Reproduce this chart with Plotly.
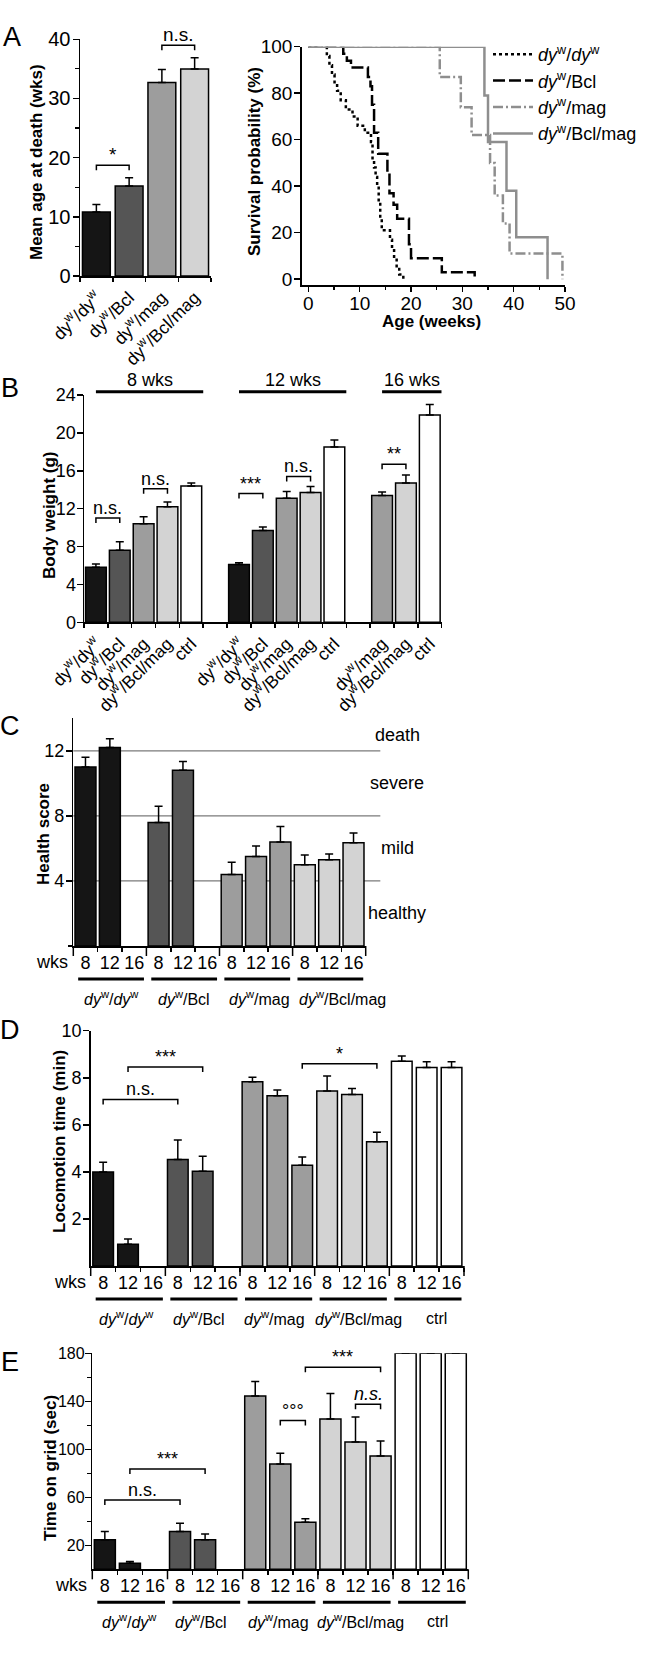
import plotly.graph_objects as go

W, H = 647, 1655
FONT = "Liberation Sans, Arial, Helvetica, sans-serif"

# ---------------- shared labels / colours ----------------
geno_keys = ["dydy", "bcl", "mag", "bclmag", "ctrl"]
geno_tick = ["dy<sup>w</sup>/dy<sup>w</sup>", "dy<sup>w</sup>/Bcl", "dy<sup>w</sup>/mag",
             "dy<sup>w</sup>/Bcl/mag", "ctrl"]
geno_ital = ["<i>dy</i><sup>w</sup>/<i>dy</i><sup>w</sup>", "<i>dy</i><sup>w</sup>/Bcl",
             "<i>dy</i><sup>w</sup>/mag", "<i>dy</i><sup>w</sup>/Bcl/mag", "ctrl"]
geno_color = ["#151515", "#555555", "#9d9d9d", "#d3d3d3", "#ffffff"]

# ---------------- A (left): mean age at death ----------------
A_geno = ["dydy", "bcl", "mag", "bclmag"]
A_mean = [10.8, 15.2, 32.7, 35.0]
A_sem = [1.3, 1.4, 2.2, 1.9]
A_sig = [(0, 1, 18.7, "*"), (2, 3, 39.0, "n.s.")]

# ---------------- A (right): survival curves ----------------
surv_dydy_t = [0, 3.6, 4.1, 4.6, 5.1, 5.6, 6.3, 7.3, 8.6, 9.6, 11.0, 12.2, 12.5, 12.8, 13.1,
               13.4, 13.7, 14.0, 14.3, 15.9, 16.3, 16.7, 17.2, 17.7, 18.5]
surv_dydy_s = [100, 96, 92, 88, 84, 81, 77, 73, 70, 66, 63, 59, 52, 48, 44,
               40, 33, 26, 21, 17, 13, 9, 5, 2, 0]
surv_bcl_t = [0, 6.8, 7.5, 8.3, 11.6, 12.1, 12.4, 12.8, 13.6, 15.4, 15.8, 16.6, 17.3, 19.6,
              20.0, 26.0, 32.4]
surv_bcl_s = [100, 97, 94, 91, 87, 83, 75, 63, 54, 46, 37, 32, 26, 15,
              9, 3, 0]
surv_mag_t = [0, 25.6, 29.7, 31.8, 35.4, 36.3, 37.9, 39.2, 49.5]
surv_mag_s = [100, 87, 74, 62, 50, 36, 24, 11, 0]
surv_bclmag_t = [0, 34.3, 35.0, 38.6, 40.5, 46.6]
surv_bclmag_s = [100, 79, 59, 38, 18, 0]

# ---------------- B: body weight ----------------
B_weeks = ["8 wks", "12 wks", "16 wks"]
B_geno = [["dydy", "bcl", "mag", "bclmag", "ctrl"],
          ["dydy", "bcl", "mag", "bclmag", "ctrl"],
          ["mag", "bclmag", "ctrl"]]
B_mean = [5.8, 7.6, 10.4, 12.2, 14.4, 6.1, 9.7, 13.1, 13.7, 18.5, 13.4, 14.7, 21.9]
B_sem = [0.35, 0.9, 0.75, 0.5, 0.3, 0.2, 0.35, 0.7, 0.65, 0.75, 0.35, 0.85, 1.1]
B_sig = [(0, 1, 11.0, "n.s."), (2, 3, 14.1, "n.s."), (6, 7, 13.6, "***"),
         (8, 9, 15.4, "n.s."), (12, 13, 16.7, "**")]

# ---------------- C, D, E: per genotype x weeks ----------------
weeks = ["8", "12", "16"]
C_geno = ["dydy", "bcl", "mag", "bclmag"]
C_mean = [11.0, 12.2, None, 7.6, 10.8, None, 4.4, 5.5, 6.4, 5.0, 5.3, 6.35]
C_sem = [0.6, 0.55, 0, 1.0, 0.55, 0, 0.75, 0.65, 0.95, 0.6, 0.35, 0.6]
C_thresholds = [4, 8, 12]
C_zones = ["healthy", "mild", "severe", "death"]

D_geno = ["dydy", "bcl", "mag", "bclmag", "ctrl"]
D_mean = [4.0, 0.92, None, 4.53, 4.03, None, 7.83, 7.24, 4.28, 7.44, 7.29, 5.28, 8.7, 8.44, 8.44]
D_sem = [0.41, 0.23, 0, 0.82, 0.63, 0, 0.19, 0.24, 0.35, 0.63, 0.25, 0.4, 0.22, 0.24, 0.24]
D_sig = [(0, 3, 7.08, "n.s."), (1, 4, 8.46, "***"), (8, 11, 8.6, "*")]

E_geno = ["dydy", "bcl", "mag", "bclmag", "ctrl"]
E_mean = [24.7, 5.0, None, 31.4, 24.7, None, 144.4, 87.8, 39.2, 125.3, 106.1, 94.4, 180, 180, 180]
E_sem = [6.7, 1.4, 0, 6.9, 4.7, 0, 12.0, 8.9, 3.0, 21.1, 20.9, 12.6, 0, 0, 0]
E_sig = [(0, 3, 57.8, "n.s."), (1, 4, 83.6, "***"), (7, 8, 123.9, "°°°"),
         (8, 11, 168.3, "***"), (10, 11, 137.5, "<i>n.s.</i>")]

# ======================================================================
fig = go.Figure()


def xdom(l, r):
    return [l / W, r / W]


def ydom(t, b):
    return [1 - b / H, 1 - t / H]


DOM = {
    "A1": (xdom(80, 211), ydom(39.3, 276)),
    "A2": (xdom(301.7, 565), ydom(46.7, 285)),
    "B": (xdom(84, 441.7), ydom(395, 622.3)),
    "C": (xdom(73.3, 365.7), ydom(718.3, 946)),
    "D": (xdom(90.7, 464), ydom(1030.7, 1266)),
    "E": (xdom(92.3, 468.3), ydom(1353.3, 1569.3)),
}
AX = {"A1": ("x", "y"), "A2": ("x2", "y2"), "B": ("x3", "y3"),
      "C": ("x4", "y4"), "D": ("x5", "y5"), "E": ("x6", "y6")}


def col(key):
    return geno_color[geno_keys.index(key)]


def add_bars(panel, xs, ys, errs, colors, width):
    xa, ya = AX[panel]
    fig.add_trace(go.Bar(
        x=xs, y=ys, width=width,
        marker=dict(color=colors, line=dict(color="black", width=1.5)),
        error_y=dict(type="data", array=errs, arrayminus=[0] * len(errs), symmetric=False,
                     color="black", thickness=1.5, width=4),
        xaxis=xa, yaxis=ya, showlegend=False, hoverinfo="skip", cliponaxis=False))


def yrange_px(panel):
    d = DOM[panel][1]
    return (d[1] - d[0]) * H


def add_brackets(panel, sigs, yspan, leg_px=5, fsize=18):
    xa, ya = AX[panel]
    leg = leg_px * yspan / yrange_px(panel)
    for x0, x1, y, txt in sigs:
        fig.add_shape(type="path", xref=xa, yref=ya,
                      path=f"M {x0},{y - leg} L {x0},{y} L {x1},{y} L {x1},{y - leg}",
                      line=dict(color="black", width=1.5))
        fig.add_annotation(x=(x0 + x1) / 2, y=y, xref=xa, yref=ya, text=txt, showarrow=False,
                           xanchor="center", yanchor="bottom", yshift=-2,
                           font=dict(size=fsize, family=FONT, color="black"))


# ---------------- panel A left ----------------
add_bars("A1", list(range(len(A_mean))), A_mean, A_sem, [col(k) for k in A_geno], 0.85)
add_brackets("A1", A_sig, 40, leg_px=5, fsize=19)

# ---------------- panel A right ----------------
surv_sets = [(surv_dydy_t, surv_dydy_s, "black", "dot", geno_ital[0]),
             (surv_bcl_t, surv_bcl_s, "black", "12px,4px", geno_ital[1]),
             (surv_mag_t, surv_mag_s, "#8e8e8e", "10px,3px,2px,3px", geno_ital[2]),
             (surv_bclmag_t, surv_bclmag_s, "#8e8e8e", "solid", geno_ital[3])]
for t, s, c, dash, name in surv_sets:
    fig.add_trace(go.Scatter(x=t, y=s, mode="lines", line=dict(color=c, width=2.5, dash=dash, shape="hv"),
                             name=name, xaxis="x2", yaxis="y2", cliponaxis=False, hoverinfo="skip"))

# ---------------- panel B ----------------
B_pos, B_ticktext, B_cols, B_spans = [], [], [], []
p = 0
for wk, gl in zip(B_weeks, B_geno):
    start = p
    for g in gl:
        B_pos.append(p)
        B_ticktext.append(geno_tick[geno_keys.index(g)])
        B_cols.append(col(g))
        p += 1
    B_spans.append((start, p - 1, wk))
    p += 1
add_bars("B", B_pos, B_mean, B_sem, B_cols, 0.87)
add_brackets("B", B_sig, 24, leg_px=5)
for a, b, wk in B_spans:
    fig.add_shape(type="line", xref="x3", yref="y3 domain", x0=a, x1=b + 0.5, y0=1.0145, y1=1.0145,
                  line=dict(color="black", width=3))
    fig.add_annotation(x=(a + b + 0.5) / 2, y=1.0145, xref="x3", yref="y3 domain", text=wk,
                       showarrow=False, xanchor="center", yanchor="middle", yshift=12,
                       font=dict(size=18, family=FONT, color="black"))


# ---------------- panels C, D, E ----------------
def slots_panel(panel, glist, means, sems, width, name_shift=None):
    xs = list(range(len(glist) * 3))
    cols = [col(g) for g in glist for _ in weeks]
    add_bars(panel, xs, means, sems, cols, width)
    xa, ya = AX[panel]
    n = len(glist)
    shifts = name_shift or [0] * n
    for g in range(n + 1):
        fig.add_shape(type="line", xref=f"{xa} domain", yref=f"{ya} domain", x0=g / n, x1=g / n,
                      y0=0, y1=-10 / yrange_px(panel), line=dict(color="black", width=1.5))
    for gi, g in enumerate(glist):
        fig.add_shape(type="line", xref=xa, yref=f"{ya} domain", x0=3 * gi - 0.3, x1=3 * gi + 2.4,
                      y0=-33 / yrange_px(panel), y1=-33 / yrange_px(panel),
                      line=dict(color="black", width=3))
        fig.add_annotation(x=3 * gi + 1.05, y=0, xref=xa, yref=f"{ya} domain",
                           text=geno_ital[geno_keys.index(g)], showarrow=False,
                           xanchor="center", yanchor="middle", xshift=shifts[gi],
                           yshift=-52, font=dict(size=16, family=FONT, color="black"))
    fig.add_annotation(x=0, y=0, xref=f"{xa} domain", yref=f"{ya} domain", text="wks", showarrow=False,
                       xanchor="right", yanchor="middle", xshift=-3, yshift=-16,
                       font=dict(size=18, family=FONT, color="black"))


slots_panel("C", C_geno, C_mean, C_sem, 0.86, name_shift=[0, 0, 2, 12])
for th in C_thresholds:
    fig.add_shape(type="line", xref="x4 domain", yref="y4", x0=0, x1=1.05, y0=th, y1=th,
                  line=dict(color="#7a7a7a", width=1.2), layer="below")
zone_edges = [0] + C_thresholds + [14]
for i, z in enumerate(C_zones):
    fig.add_annotation(x=397 / W, y=(zone_edges[i] + zone_edges[i + 1]) / 2, xref="paper", yref="y4",
                       text=z, showarrow=False, xanchor="center", yanchor="middle",
                       font=dict(size=18, family=FONT, color="black"))

slots_panel("D", D_geno, D_mean, D_sem, 0.83, name_shift=[-3, -5, -4, 5, 9])
add_brackets("D", D_sig, 10, leg_px=5)
slots_panel("E", E_geno, E_mean, E_sem, 0.84, name_shift=[-2, -5, -3, 4, 6])
add_brackets("E", E_sig, 180, leg_px=5)


# ---------------- axes ----------------
def yaxis(panel, rng, tickvals, minor=None, size=18, standoff=-2):
    d = dict(domain=DOM[panel][1], range=rng, tickvals=tickvals, ticks="outside", ticklen=6,
             tickwidth=1.5, tickcolor="black", showline=True, linewidth=1.5, linecolor="black",
             showgrid=False, zeroline=False, anchor=AX[panel][0], automargin=False,
             ticklabelstandoff=standoff,
             tickfont=dict(size=size, family=FONT, color="black"), fixedrange=True)
    if minor:
        d["minor"] = dict(tickvals=minor, ticks="outside", ticklen=3.5, tickwidth=1.2, tickcolor="black",
                          showgrid=False)
    return d


def xcat(panel, n, tickvals, ticktext, angle=0, size=18, standoff=3):
    return dict(domain=DOM[panel][0], range=[-0.5, n - 0.5], tickvals=tickvals, ticktext=ticktext,
                tickangle=angle, ticks="", showline=True, linewidth=1.5, linecolor="black",
                showgrid=False, zeroline=False, anchor=AX[panel][1], ticklabelstandoff=standoff,
                automargin=False,
                tickfont=dict(size=size, family=FONT, color="black"), fixedrange=True,
                minor=dict(tickvals=[i - 0.5 for i in range(n + 1)], ticks="outside", ticklen=4,
                           tickwidth=1.5, tickcolor="black", showgrid=False))


layout_axes = dict(
    xaxis=xcat("A1", 4, list(range(4)), [geno_tick[geno_keys.index(k)] for k in A_geno], angle=-45,
               size=17.5, standoff=3),
    yaxis=yaxis("A1", [0, 40], [0, 10, 20, 30, 40], minor=[5, 15, 25, 35], size=20),
    xaxis2=dict(domain=DOM["A2"][0], range=[-1.3, 50], tickvals=[0, 10, 20, 30, 40, 50], ticks="outside",
                ticklen=5, tickwidth=1.5, tickcolor="black", showline=True, linewidth=1.5, linecolor="black",
                showgrid=False, zeroline=False, anchor="y2", automargin=False, ticklabelstandoff=-4,
                tickfont=dict(size=19, family=FONT, color="black"),
                minor=dict(tickvals=[5, 15, 25, 35, 45], ticks="outside", ticklen=3.5, tickwidth=1.2,
                           tickcolor="black", showgrid=False), fixedrange=True),
    yaxis2=yaxis("A2", [-2.5, 100], [0, 20, 40, 60, 80, 100], size=19),
    xaxis3=xcat("B", 15, B_pos, B_ticktext, angle=-45, size=17.5, standoff=3),
    yaxis3=yaxis("B", [0, 24], [0, 4, 8, 12, 16, 20, 24], standoff=-3),
    xaxis4=xcat("C", 12, list(range(12)), weeks * 4, standoff=0),
    yaxis4=yaxis("C", [0, 14], [4, 8, 12], minor=[0]),
    xaxis5=xcat("D", 15, list(range(15)), weeks * 5, standoff=0),
    yaxis5=yaxis("D", [0, 10], [2, 4, 6, 8, 10]),
    xaxis6=xcat("E", 15, list(range(15)), weeks * 5, standoff=0),
    yaxis6=yaxis("E", [0, 180], [20, 60, 100, 140, 180], minor=[40, 80, 120, 160], size=16, standoff=-3),
)

# ---------------- titles & panel letters ----------------
titles = [("Mean age at death (wks)", 37, 162), ("Survival probability (%)", 255, 162),
          ("Body weight (g)", 49, 516), ("Health score", 44, 834), ("Locomotion time (min)", 59, 1142),
          ("Time on grid (sec)", 50, 1468)]
for txt, px, py in titles:
    fig.add_annotation(x=px / W, y=1 - py / H, xref="paper", yref="paper", text=f"<b>{txt}</b>",
                       textangle=-90, showarrow=False, xanchor="center", yanchor="middle",
                       font=dict(size=17, family=FONT, color="black"))
fig.add_annotation(x=431.7 / W, y=1 - 321 / H, xref="paper", yref="paper", text="<b>Age (weeks)</b>",
                   showarrow=False, xanchor="center", yanchor="middle",
                   font=dict(size=17, family=FONT, color="black"))
for letter, px, py in [("A", 12, 37), ("B", 10, 388), ("C", 10, 726), ("D", 10, 1030), ("E", 10, 1362)]:
    fig.add_annotation(x=px / W, y=1 - py / H, xref="paper", yref="paper", text=letter, showarrow=False,
                       xanchor="center", yanchor="middle",
                       font=dict(size=27, family=FONT, color="black"))

fig.update_layout(
    template="none",
    width=W, height=H, margin=dict(l=0, r=0, t=0, b=0, pad=0, autoexpand=False), autosize=False,
    paper_bgcolor="white", plot_bgcolor="white", barmode="overlay",
    font=dict(family=FONT, color="black"),
    showlegend=True,
    legend=dict(x=488 / W, y=1 - 36 / H, xanchor="left", yanchor="top", bgcolor="rgba(0,0,0,0)",
                font=dict(size=18, family=FONT, color="black"), itemwidth=40, tracegroupgap=0),
    **layout_axes,
)

fig.write_html("out.html", config={"displayModeBar": False, "staticPlot": True},
               post_script="document.body.style.margin='0px';")
